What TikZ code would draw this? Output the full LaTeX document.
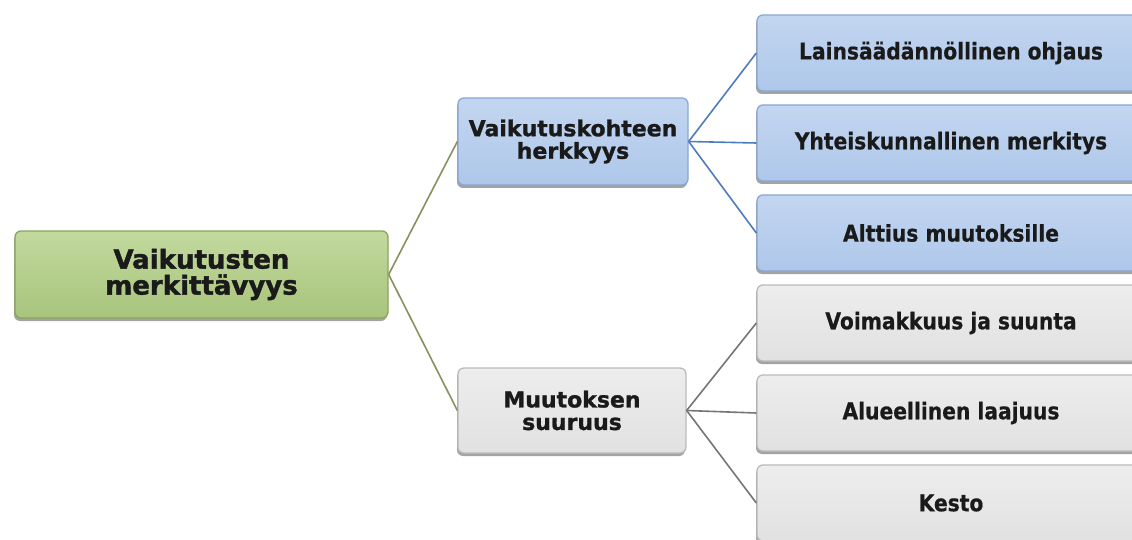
\documentclass[tikz,border=0pt]{standalone}
\usepackage{fontspec}
\setmainfont{DejaVu Sans}
\newfontfamily\rootfont[FakeBold=1.6]{DejaVu Sans}
\newfontfamily\midfont[FakeBold=1.2]{DejaVu Sans}
\newfontfamily\leaffont[FakeStretch=0.88,FakeBold=0.6]{DejaVu Sans}
\usetikzlibrary{shadows}
\definecolor{rootfillA}{HTML}{C2D99E}
\definecolor{rootfillB}{HTML}{A8C47C}
\definecolor{rootdraw}{HTML}{8AA55C}
\definecolor{bluefillA}{HTML}{C3D6F0}
\definecolor{bluefillB}{HTML}{AEC7EA}
\definecolor{bluedraw}{HTML}{8AA8D4}
\definecolor{greyfillA}{HTML}{EDEDED}
\definecolor{greyfillB}{HTML}{E1E1E1}
\definecolor{greydraw}{HTML}{BBBBBB}
\definecolor{txt}{HTML}{1A1A1A}
\definecolor{olivelink}{HTML}{8A9060}
\definecolor{bluelink}{HTML}{4F7CBC}
\definecolor{greylink}{HTML}{767676}
\tikzset{
  box/.style={rectangle, rounded corners=6pt, line width=1.3pt, inner sep=0pt,
    align=center, text=txt,
    drop shadow={shadow xshift=-1pt, shadow yshift=-3pt, fill=black!60, opacity=0.6}},
  rootbox/.style={box, draw=rootdraw, top color=rootfillA, bottom color=rootfillB,
    minimum width=373pt, minimum height=87pt, font=\rootfont\bfseries\fontsize{26}{26}\selectfont},
  midblue/.style={box, draw=bluedraw, top color=bluefillA, bottom color=bluefillB,
    minimum width=230pt, minimum height=87pt, font=\midfont\bfseries\fontsize{22}{22.5}\selectfont},
  midgrey/.style={box, draw=greydraw, top color=greyfillA, bottom color=greyfillB,
    minimum width=228pt, minimum height=85pt, font=\midfont\bfseries\fontsize{22}{22.5}\selectfont},
  leafblue/.style={box, draw=bluedraw, top color=bluefillA, bottom color=bluefillB,
    minimum width=388pt, minimum height=76pt, font=\leaffont\bfseries\fontsize{23}{23}\selectfont},
  leafgrey/.style={box, draw=greydraw, top color=greyfillA, bottom color=greyfillB,
    minimum width=388pt, minimum height=76pt, font=\leaffont\bfseries\fontsize{23}{23}\selectfont},
  link/.style={line width=1.6pt}
}
\begin{document}
\begin{tikzpicture}[x=1pt,y=-1pt]
\clip (0,0) rectangle (1132,540);
\fill[white] (0,0) rectangle (1132,540);
\node[rootbox] (root) at (201.5,274.5) {Vaikutusten\\merkittävyys};
\node[midblue] (herk) at (573,141.5) {Vaikutuskohteen\\herkkyys};
\node[midgrey] (suur) at (572,410.5) {Muutoksen\\suuruus};
\node[leafblue] (l1) at (951,53) {Lainsäädännöllinen ohjaus};
\node[leafblue] (l2) at (951,143) {Yhteiskunnallinen merkitys};
\node[leafblue] (l3) at (951,233) {Alttius muutoksille};
\node[leafgrey] (g1) at (951,323) {Voimakkuus ja suunta};
\node[leafgrey] (g2) at (951,413) {Alueellinen laajuus};
\node[leafgrey] (g3) at (951,503) {Kesto};
\draw[link, olivelink] (root.east) -- (herk.west);
\draw[link, olivelink] (root.east) -- (suur.west);
\draw[link, bluelink] (herk.east) -- (l1.west);
\draw[link, bluelink] (herk.east) -- (l2.west);
\draw[link, bluelink] (herk.east) -- (l3.west);
\draw[link, greylink] (suur.east) -- (g1.west);
\draw[link, greylink] (suur.east) -- (g2.west);
\draw[link, greylink] (suur.east) -- (g3.west);
\end{tikzpicture}
\end{document}
